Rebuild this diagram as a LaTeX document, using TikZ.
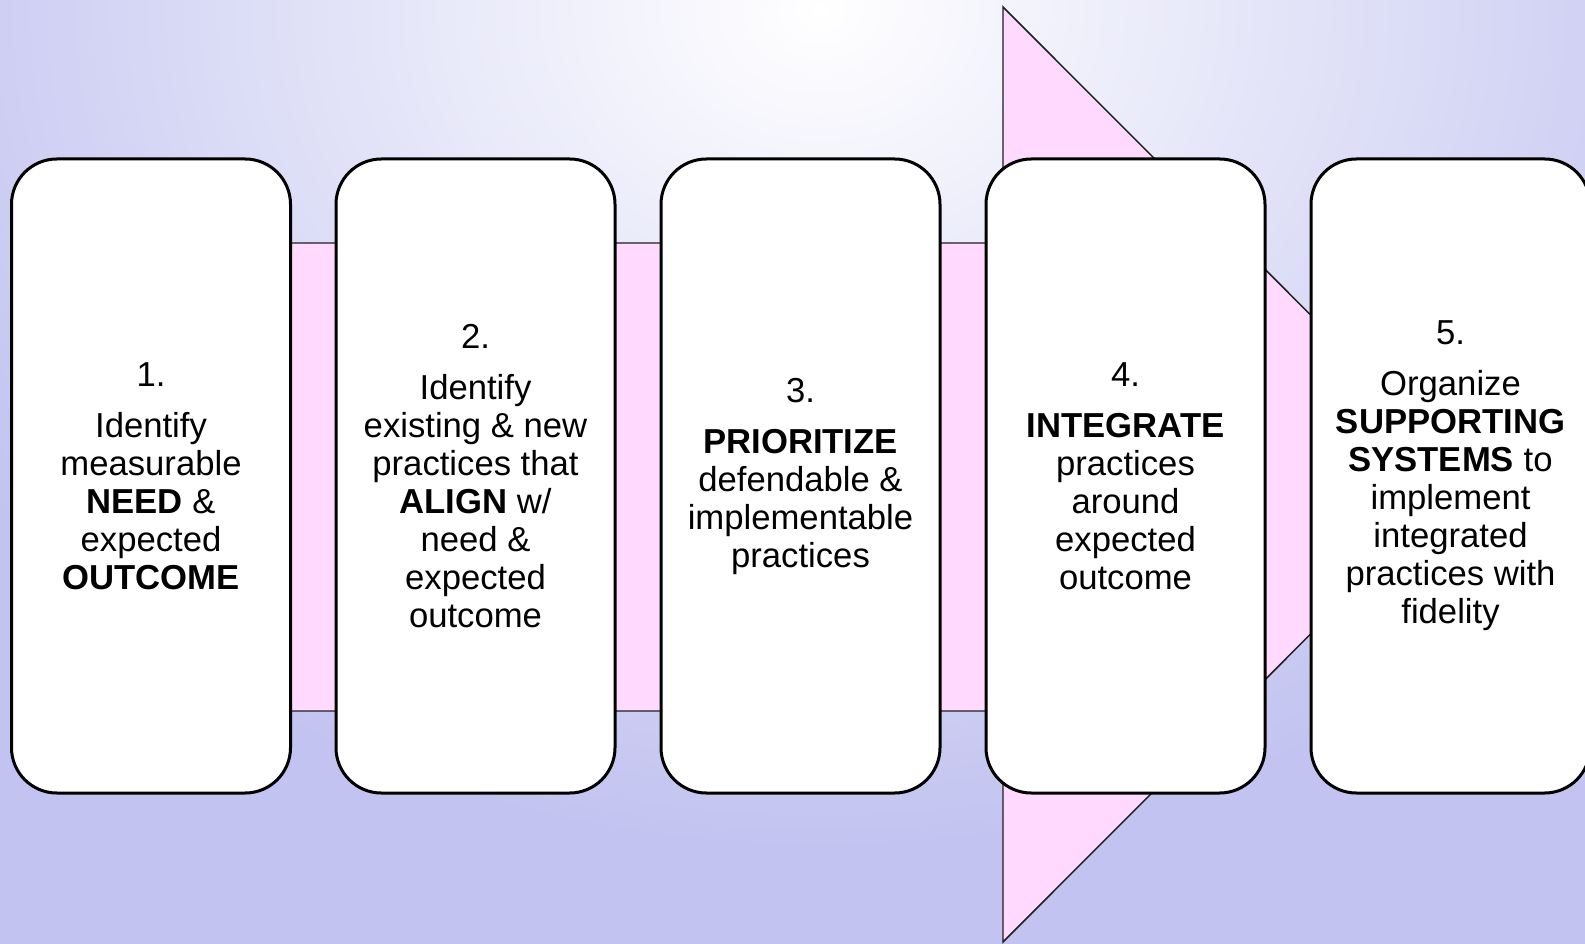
\documentclass[tikz,border=0pt]{standalone}
\usepackage{fontspec}
\setmainfont{Liberation Sans}
\definecolor{lavbg}{RGB}{194,195,240}
\definecolor{pinkarrow}{RGB}{255,217,254}
\tikzset{every picture/.style={line width=0.75pt}}
\tikzset{stepcard/.style={draw=black,fill=white,line width=2.25pt,rounded corners=34pt,
    minimum width=209.25pt,minimum height=475.5pt,inner sep=0pt,align=center,
    font=\fontsize{26}{28.5}\selectfont}}

\begin{document}
\begin{tikzpicture}[x=0.75pt,y=0.75pt,yscale=-1,xscale=1]
\useasboundingbox (0,0) rectangle (1585,944);

%Background
\fill [lavbg] (0,0) rectangle (1585,944);
\begin{scope}
\clip (0,0) rectangle (1585,944);
\shade [inner color=white,outer color=lavbg] (820,10) ellipse (1020 and 840);
\end{scope}

%Shape: Right Arrow [id:dp_arrow]
\draw [fill=pinkarrow, line width=1.1pt, draw={rgb, 255:red, 30; green, 30; blue, 30}] (151,243) -- (1003,243) -- (1003,7) -- (1470,474.5) -- (1003,942) -- (1003,711) -- (151,711) -- cycle ;

% Step cards
\node [stepcard] (need) at (151,476) {1.\\[9.75pt]Identify\\measurable\\\textbf{NEED} \&\\expected\\\textbf{OUTCOME}};
\node [stepcard] (align) at (475.5,476) {2.\\[9.75pt]Identify\\existing \& new\\practices that\\\textbf{ALIGN} w/\\need \&\\expected\\outcome};
\node [stepcard] (prioritize) at (800.5,476) {3.\\[9.75pt]\textbf{PRIORITIZE}\\defendable \&\\implementable\\practices};
\node [stepcard] (integrate) at (1125.5,476) {4.\\[9.75pt]\textbf{INTEGRATE}\\practices\\around\\expected\\outcome};
\node [stepcard] (systems) at (1450.5,476) {5.\\[9.75pt]Organize\\\textbf{SUPPORTING}\\\textbf{SYSTEMS} to\\implement\\integrated\\practices with\\fidelity};

\end{tikzpicture}
\end{document}
